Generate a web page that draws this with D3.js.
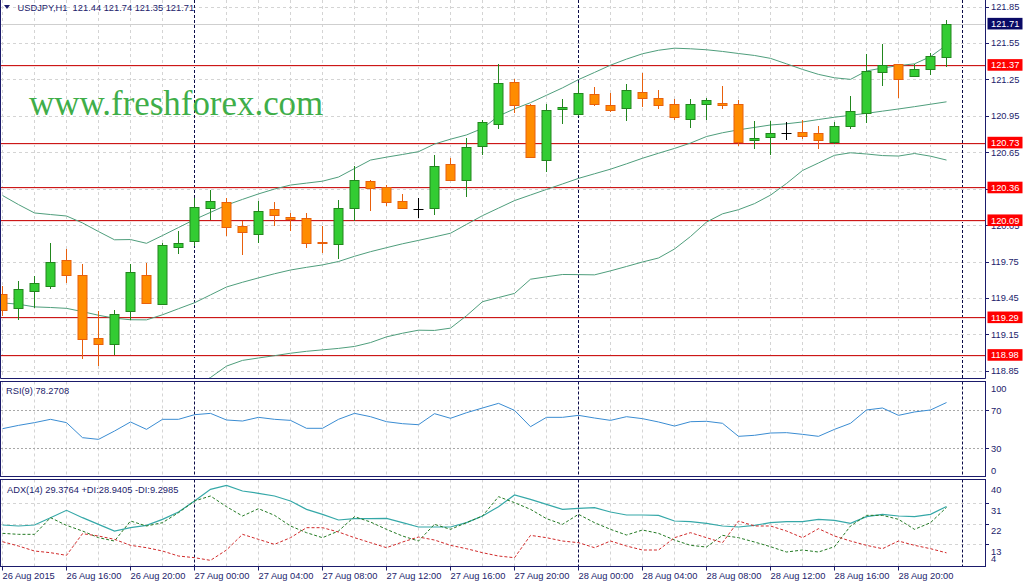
<!DOCTYPE html>
<html>
<head>
<meta charset="utf-8">
<script src="https://cdnjs.cloudflare.com/ajax/libs/d3/7.8.5/d3.min.js"></script>
<style>
  body { margin: 0; background: #ffffff; }
  svg { display: block; font-family: "Liberation Sans", Arial, sans-serif; }
</style>
</head>
<body>
<div id="chart"></div>
<script>
// USDJPY H1, 60 bars from 26 Aug 12:00 to 28 Aug 23:00
var barOpen = [119.48, 119.36, 119.50, 119.55, 119.76, 119.64, 119.12, 119.07, 119.34, 119.64,
    119.40, 119.87, 119.92, 120.19, 120.24, 120.04, 119.98, 120.18, 120.12, 120.11,
    119.91, 119.89, 120.19, 120.41, 120.36, 120.25, 120.18, 120.19, 120.55, 120.42,
    120.70, 120.88, 121.23, 121.04, 120.59, 121.00, 120.97, 121.13, 121.04, 121.01,
    121.15, 121.10, 121.05, 120.93, 121.05, 121.06, 121.05, 120.75, 120.78, 120.81,
    120.82, 120.81, 120.74, 120.87, 120.97, 121.31, 121.38, 121.28, 121.33, 121.44];
var barHigh = [119.55, 119.59, 119.63, 119.90, 119.85, 119.73, 119.34, 119.35, 119.73, 119.74,
    119.90, 120.00, 120.27, 120.34, 120.27, 120.08, 120.25, 120.24, 120.15, 120.15,
    120.04, 120.26, 120.54, 120.42, 120.38, 120.31, 120.27, 120.63, 120.60, 120.77,
    120.92, 121.38, 121.25, 121.05, 121.05, 121.09, 121.22, 121.19, 121.14, 121.21,
    121.30, 121.16, 121.09, 121.09, 121.10, 121.20, 121.08, 120.91, 120.91, 120.90,
    120.92, 120.87, 120.90, 121.11, 121.46, 121.54, 121.38, 121.38, 121.47, 121.74];
var barLow = [119.30, 119.27, 119.37, 119.52, 119.57, 118.95, 118.89, 118.98, 119.27, 119.40,
    119.40, 119.81, 119.88, 120.09, 119.96, 119.80, 119.90, 120.04, 120.00, 119.86,
    119.82, 119.77, 120.08, 120.17, 120.21, 120.18, 120.11, 120.13, 120.41, 120.28,
    120.63, 120.84, 120.97, 120.60, 120.49, 120.88, 120.95, 121.03, 120.98, 120.91,
    121.02, 121.01, 120.92, 120.85, 120.92, 121.01, 120.70, 120.68, 120.63, 120.75,
    120.76, 120.68, 120.72, 120.84, 120.89, 121.20, 121.10, 121.28, 121.29, 121.35];
var barClose = [119.35, 119.52, 119.57, 119.75, 119.64, 119.11, 119.07, 119.32, 119.66, 119.41,
    119.89, 119.90, 120.20, 120.25, 120.03, 119.99, 120.17, 120.13, 120.10, 119.90,
    119.90, 120.19, 120.42, 120.35, 120.24, 120.19, 120.18, 120.54, 120.42, 120.69,
    120.90, 121.22, 121.04, 120.61, 121.00, 121.02, 121.14, 121.05, 121.00, 121.16,
    121.10, 121.04, 120.94, 121.05, 121.08, 121.04, 120.74, 120.77, 120.81, 120.81,
    120.79, 120.75, 120.87, 120.99, 121.32, 121.37, 121.26, 121.34, 121.44, 121.71];

// Bollinger bands
var bandUpper = [120.294, 120.219, 120.150, 120.137, 120.125, 120.068, 119.997, 119.929, 119.931, 119.900,
    119.964, 120.030, 120.096, 120.155, 120.215, 120.262, 120.307, 120.347, 120.380, 120.396,
    120.412, 120.446, 120.516, 120.586, 120.610, 120.632, 120.655, 120.718, 120.758, 120.793,
    120.847, 120.949, 121.008, 121.059, 121.120, 121.181, 121.249, 121.308, 121.368, 121.418,
    121.462, 121.491, 121.508, 121.503, 121.495, 121.481, 121.464, 121.448, 121.424, 121.379,
    121.333, 121.292, 121.264, 121.251, 121.320, 121.345, 121.364, 121.379, 121.438, 121.534];
var bandMiddle = [119.409, 119.398, 119.376, 119.371, 119.364, 119.337, 119.307, 119.283, 119.270, 119.269,
    119.311, 119.361, 119.410, 119.475, 119.540, 119.579, 119.615, 119.649, 119.680, 119.702,
    119.722, 119.750, 119.793, 119.831, 119.864, 119.896, 119.924, 119.953, 119.983, 120.056,
    120.128, 120.190, 120.252, 120.298, 120.344, 120.389, 120.435, 120.473, 120.511, 120.555,
    120.601, 120.642, 120.682, 120.726, 120.780, 120.811, 120.835, 120.855, 120.875, 120.885,
    120.900, 120.920, 120.939, 120.955, 120.971, 120.989, 121.007, 121.026, 121.046, 121.066];
var bandLower = [118.526, 118.559, 118.600, 118.608, 118.604, 118.608, 118.616, 118.622, 118.630, 118.639,
    118.658, 118.691, 118.724, 118.794, 118.888, 118.935, 118.955, 118.974, 118.994, 119.010,
    119.022, 119.034, 119.050, 119.082, 119.129, 119.159, 119.184, 119.182, 119.201, 119.303,
    119.419, 119.453, 119.487, 119.604, 119.624, 119.643, 119.642, 119.640, 119.673, 119.709,
    119.746, 119.779, 119.853, 119.956, 120.075, 120.143, 120.177, 120.227, 120.297, 120.393,
    120.500, 120.562, 120.625, 120.646, 120.636, 120.623, 120.619, 120.640, 120.618, 120.586];

var rsiValues = [50.6, 54.1, 57.0, 60.5, 57.0, 41.1, 39.3, 48.1, 57.7, 49.9,
    60.5, 60.5, 65.4, 66.8, 59.8, 58.7, 62.6, 60.5, 59.4, 51.0,
    51.0, 60.5, 66.8, 63.3, 58.0, 55.9, 54.8, 66.5, 61.6, 67.5,
    72.5, 77.4, 70.0, 52.7, 62.6, 62.6, 64.7, 61.9, 59.4, 63.3,
    61.2, 57.7, 53.4, 58.0, 58.4, 56.3, 42.5, 43.6, 46.0, 46.4,
    44.6, 42.5, 49.9, 56.3, 70.4, 72.5, 64.7, 68.3, 70.4, 78.27];

var adxMain = [21.35, 20.92, 21.35, 24.52, 27.70, 24.52, 21.64, 18.75, 20.19, 21.20,
    23.80, 26.98, 31.74, 36.79, 38.52, 36.07, 35.06, 33.90, 31.74, 28.13,
    25.97, 23.51, 24.09, 24.09, 24.23, 22.36, 20.48, 20.48, 20.48, 22.36,
    25.24, 29.28, 34.33, 32.46, 30.29, 28.13, 28.56, 28.85, 26.98, 25.68,
    25.68, 25.53, 23.08, 22.79, 22.07, 20.92, 20.48, 21.20, 22.36, 22.79,
    22.79, 23.80, 23.37, 22.07, 24.96, 25.97, 25.24, 24.96, 25.97, 29.38];
var adxPlusDi = [17.74, 17.31, 17.31, 24.52, 21.20, 18.75, 15.86, 14.42, 23.08, 20.92,
    22.36, 26.69, 31.74, 33.90, 29.28, 25.24, 28.42, 25.53, 20.92, 18.03,
    15.86, 18.75, 24.96, 22.65, 19.47, 16.59, 14.42, 21.64, 19.47, 22.36,
    25.24, 33.61, 31.02, 28.13, 24.09, 21.64, 25.97, 22.36, 19.47, 17.02,
    19.18, 17.74, 14.85, 12.55, 11.82, 16.87, 15.86, 13.99, 11.97, 9.66,
    10.53, 9.66, 11.97, 20.92, 25.53, 25.53, 23.80, 19.47, 22.36, 28.94];
var adxMinusDi = [14.13, 12.26, 10.09, 9.37, 8.22, 17.60, 16.59, 15.14, 12.55, 11.54,
    10.09, 7.93, 7.21, 6.05, 10.53, 17.31, 15.14, 12.98, 15.86, 20.19,
    20.19, 18.32, 15.86, 13.70, 11.54, 13.99, 16.15, 14.85, 12.55, 11.10,
    9.37, 7.93, 7.21, 16.87, 15.86, 14.42, 13.70, 11.54, 14.42, 12.26,
    10.53, 10.53, 15.86, 18.03, 15.86, 13.70, 23.08, 20.92, 20.92, 18.75,
    15.86, 19.76, 16.59, 14.42, 12.55, 11.10, 14.42, 12.55, 11.10, 9.30];

var priceTicks = [121.85, 121.55, 121.25, 120.95, 120.65, 120.35, 120.05, 119.75, 119.45, 119.15, 118.85];
var levelPrices = [121.37, 120.73, 120.36, 120.09, 119.29, 118.98];
var lastPrice = 121.71;
var rsiTicks = [100, 70, 30, 0];
var rsiLevels = [70, 30];
var adxTicks = [40, 31, 22, 13, 4];
// one label every 4 bars
var timeLabels = ["26 Aug 2015", "26 Aug 16:00", "26 Aug 20:00", "27 Aug 00:00", "27 Aug 04:00",
    "27 Aug 08:00", "27 Aug 12:00", "27 Aug 16:00", "27 Aug 20:00", "28 Aug 00:00",
    "28 Aug 04:00", "28 Aug 08:00", "28 Aug 12:00", "28 Aug 16:00", "28 Aug 20:00"];
var daySeparators = [12, 36, 60];

var svgWidth = 1027;
var svgHeight = 581;
var axisX = 985.5;
var mainBottom = 378.5;
var rsiTop = 381.5, rsiBottom = 476.5;
var adxTop = 479.5, adxBottom = 566.5;

var navy = "#1b1b6b";
var gridColor = "#d4d4d4";

var svg = d3.select("#chart")
    .append("svg")
    .attr("width", svgWidth)
    .attr("height", svgHeight);

var xScale = d3.scaleLinear().domain([0, 60]).range([2, 962]);
var yPrice = d3.scaleLinear().domain([118.79, 121.905]).range([378, 0]);
var yRsi = d3.scaleLinear().domain([0, 100]).range([476.5, 382]);
var yAdx = d3.scaleLinear().domain([4, 40]).range([565.1, 481.9]);

var bx = i => Math.round(xScale(i)) + 0.5;
var crisp = v => Math.round(v) + 0.5;

var defs = svg.append("defs");
[["clipMain", 0, mainBottom], ["clipRsi", rsiTop, rsiBottom], ["clipAdx", adxTop, adxBottom]].forEach(c => {
    defs.append("clipPath").attr("id", c[0])
        .append("rect")
        .attr("x", 1).attr("y", c[1])
        .attr("width", axisX - 1).attr("height", c[2] - c[1]);
});

var evenBars = d3.range(0, 61, 2);

// ---------- grids ----------
function vGrid(top, bottom) {
    svg.append("g").selectAll("line")
        .data(evenBars.filter(i => daySeparators.indexOf(i) < 0))
        .enter()
        .append("line")
        .attr("x1", d => bx(d)).attr("x2", d => bx(d))
        .attr("y1", top).attr("y2", bottom)
        .attr("stroke", gridColor)
        .attr("stroke-dasharray", "3,3");
}
vGrid(0, mainBottom);
vGrid(rsiTop, rsiBottom);
vGrid(adxTop, adxBottom);

svg.append("g").selectAll("line")
    .data(priceTicks)
    .enter()
    .append("line")
    .attr("x1", 1).attr("x2", axisX)
    .attr("y1", d => crisp(yPrice(d))).attr("y2", d => crisp(yPrice(d)))
    .attr("stroke", gridColor)
    .attr("stroke-dasharray", "3,3");

svg.append("g").selectAll("line")
    .data(adxTicks.slice(1, 4))
    .enter()
    .append("line")
    .attr("x1", 1).attr("x2", axisX)
    .attr("y1", d => crisp(yAdx(d))).attr("y2", d => crisp(yAdx(d)))
    .attr("stroke", gridColor)
    .attr("stroke-dasharray", "3,3");

svg.append("g").selectAll("line")
    .data(rsiLevels)
    .enter()
    .append("line")
    .attr("x1", 1).attr("x2", axisX)
    .attr("y1", d => crisp(yRsi(d))).attr("y2", d => crisp(yRsi(d)))
    .attr("stroke", "#a8a8a8")
    .attr("stroke-dasharray", "2,2");

// day separators
[[0, mainBottom], [rsiTop, rsiBottom], [adxTop, adxBottom]].forEach(p => {
    svg.append("g").selectAll("line")
        .data(daySeparators)
        .enter()
        .append("line")
        .attr("x1", d => bx(d)).attr("x2", d => bx(d))
        .attr("y1", p[0]).attr("y2", p[1])
        .attr("stroke", "#0c0c48")
        .attr("stroke-dasharray", "3,2");
});

// watermark
svg.append("text")
    .attr("x", 29)
    .attr("y", 115)
    .attr("font-family", "'Liberation Serif', 'Times New Roman', serif")
    .attr("font-size", "34.9px")
    .attr("fill", "#3fae49")
    .text("www.freshforex.com");

// bid line
svg.append("line")
    .attr("x1", 1).attr("x2", axisX)
    .attr("y1", crisp(yPrice(lastPrice))).attr("y2", crisp(yPrice(lastPrice)))
    .attr("stroke", "#cfcfcf");

// horizontal levels (soft pink halo, then the red line)
var levels = svg.append("g");
levels.selectAll("line.halo")
    .data(levelPrices)
    .enter()
    .append("line")
    .attr("class", "halo")
    .attr("x1", 1).attr("x2", axisX)
    .attr("y1", d => crisp(yPrice(d)) + 1).attr("y2", d => crisp(yPrice(d)) + 1)
    .attr("stroke", "#f7dada");
levels.selectAll("line.level")
    .data(levelPrices)
    .enter()
    .append("line")
    .attr("class", "level")
    .attr("x1", 1).attr("x2", axisX)
    .attr("y1", d => crisp(yPrice(d))).attr("y2", d => crisp(yPrice(d)))
    .attr("stroke", "#cc1818");

// Bollinger bands
var mainGroup = svg.append("g").attr("clip-path", "url(#clipMain)");
var bandLine = d3.line()
    .x((d, i) => bx(i))
    .y(d => yPrice(d));
[bandUpper, bandMiddle, bandLower].forEach(band => {
    mainGroup.append("path")
        .attr("d", bandLine(band))
        .attr("fill", "none")
        .attr("stroke", "#4f9e7c")
        .attr("stroke-width", 1);
});

// candles
var bars = d3.range(barOpen.length);
var candle = mainGroup.selectAll("g.candle")
    .data(bars)
    .enter()
    .append("g")
    .attr("class", "candle");

function candleStroke(i) {
    if (barClose[i] > barOpen[i]) return "#22861e";
    if (barClose[i] < barOpen[i]) return "#e8600c";
    return "#000000";
}

candle.append("line")
    .attr("x1", d => bx(d)).attr("x2", d => bx(d))
    .attr("y1", d => Math.round(yPrice(barHigh[d])))
    .attr("y2", d => Math.round(yPrice(barLow[d])))
    .attr("stroke", d => candleStroke(d));

candle.filter(d => barOpen[d] !== barClose[d])
    .append("rect")
    .attr("x", d => bx(d) - 4.5)
    .attr("width", 9)
    .attr("y", d => crisp(yPrice(Math.max(barOpen[d], barClose[d]))))
    .attr("height", d => Math.max(1, Math.round(Math.abs(yPrice(barOpen[d]) - yPrice(barClose[d])))))
    .attr("fill", d => barClose[d] > barOpen[d] ? "#33cc33" : "#ff8c00")
    .attr("stroke", d => candleStroke(d));

candle.filter(d => barOpen[d] === barClose[d])
    .append("line")
    .attr("x1", d => bx(d) - 5).attr("x2", d => bx(d) + 5)
    .attr("y1", d => crisp(yPrice(barOpen[d]))).attr("y2", d => crisp(yPrice(barOpen[d])))
    .attr("stroke", "#000000");

// RSI
svg.append("g").attr("clip-path", "url(#clipRsi)")
    .append("path")
    .attr("d", d3.line().x((d, i) => bx(i)).y(d => yRsi(d))(rsiValues))
    .attr("fill", "none")
    .attr("stroke", "#3a8cd2")
    .attr("stroke-width", 1);

// ADX
var adxGroup = svg.append("g").attr("clip-path", "url(#clipAdx)");
var adxLine = d3.line().x((d, i) => bx(i)).y(d => yAdx(d));
adxGroup.append("path")
    .attr("d", adxLine(adxMain))
    .attr("fill", "none")
    .attr("stroke", "#35a8a8")
    .attr("stroke-width", 1.2);
adxGroup.append("path")
    .attr("d", adxLine(adxPlusDi))
    .attr("fill", "none")
    .attr("stroke", "#247a24")
    .attr("stroke-dasharray", "3,2");
adxGroup.append("path")
    .attr("d", adxLine(adxMinusDi))
    .attr("fill", "none")
    .attr("stroke", "#d02a2a")
    .attr("stroke-dasharray", "3,2");

// ---------- frames ----------
svg.append("path")
    .attr("d", `M0.5,0 V${mainBottom} H${axisX} V0`)
    .attr("fill", "none")
    .attr("stroke", navy);
[[rsiTop, rsiBottom], [adxTop, adxBottom]].forEach(p => {
    svg.append("rect")
        .attr("x", 0.5).attr("y", p[0])
        .attr("width", axisX - 0.5).attr("height", p[1] - p[0])
        .attr("fill", "none")
        .attr("stroke", navy);
});

// ---------- right axis labels ----------
var labelStyle = sel => sel
    .attr("font-size", "9.3px")
    .attr("fill", navy);

var priceAxis = svg.append("g");
priceAxis.selectAll("line")
    .data(priceTicks)
    .enter()
    .append("line")
    .attr("x1", axisX).attr("x2", axisX + 3.5)
    .attr("y1", d => crisp(yPrice(d))).attr("y2", d => crisp(yPrice(d)))
    .attr("stroke", navy);
priceAxis.selectAll("text")
    .data(priceTicks)
    .enter()
    .append("text")
    .attr("x", 991)
    .attr("y", d => yPrice(d) + 3.4)
    .call(labelStyle)
    .text(d => d.toFixed(2));

// level price tags
var tags = svg.append("g").selectAll("g")
    .data(levelPrices.map(p => ({ p: p, fill: "#ff0000" })).concat([{ p: lastPrice, fill: "#0a0a66" }]))
    .enter()
    .append("g");
tags.append("rect")
    .attr("x", 987.5)
    .attr("y", d => yPrice(d.p) - 5.8)
    .attr("width", 35)
    .attr("height", 11.6)
    .attr("fill", d => d.fill);
tags.append("text")
    .attr("x", 991)
    .attr("y", d => yPrice(d.p) + 3.4)
    .attr("font-size", "9.3px")
    .attr("fill", "#ffffff")
    .text(d => d.p.toFixed(2));

// RSI axis
svg.append("g").selectAll("text")
    .data(rsiTicks)
    .enter()
    .append("text")
    .attr("x", 991)
    .attr("y", d => Math.min(Math.max(yRsi(d), 388.7), 471) + 3.4)
    .call(labelStyle)
    .text(d => d);
svg.append("g").selectAll("line")
    .data(rsiLevels)
    .enter()
    .append("line")
    .attr("x1", axisX).attr("x2", axisX + 3.5)
    .attr("y1", d => crisp(yRsi(d))).attr("y2", d => crisp(yRsi(d)))
    .attr("stroke", navy);

// ADX axis (labels hang below their tick)
svg.append("g").selectAll("line")
    .data(adxTicks.slice(1, 4))
    .enter()
    .append("line")
    .attr("x1", axisX).attr("x2", axisX + 3.5)
    .attr("y1", d => crisp(yAdx(d))).attr("y2", d => crisp(yAdx(d)))
    .attr("stroke", navy);
svg.append("g").selectAll("text")
    .data(adxTicks)
    .enter()
    .append("text")
    .attr("x", 991)
    .attr("y", d => Math.min(Math.max(yAdx(d) + 7.5, 486), 558.7) + 3.4)
    .call(labelStyle)
    .text(d => d);

// ---------- time axis ----------
var timeAxis = svg.append("g");
timeAxis.selectAll("line")
    .data(timeLabels)
    .enter()
    .append("line")
    .attr("x1", (d, k) => bx(k * 4)).attr("x2", (d, k) => bx(k * 4))
    .attr("y1", adxBottom).attr("y2", adxBottom + 4)
    .attr("stroke", navy);
timeAxis.selectAll("text")
    .data(timeLabels)
    .enter()
    .append("text")
    .attr("x", (d, k) => bx(k * 4))
    .attr("y", 578.5)
    .call(labelStyle)
    .text(d => d);

// ---------- panel captions ----------
svg.append("path")
    .attr("d", "M4,5 L10,5 L7,9 Z")
    .attr("fill", navy);
svg.append("text")
    .attr("x", 17.5).attr("y", 11)
    .call(labelStyle)
    .attr("xml:space", "preserve")
    .text("USDJPY,H1  121.44 121.74 121.35 121.71");
svg.append("text")
    .attr("x", 6).attr("y", 394)
    .call(labelStyle)
    .text("RSI(9) 78.2708");
svg.append("text")
    .attr("x", 7).attr("y", 492.5)
    .call(labelStyle)
    .text("ADX(14) 29.3764 +DI:28.9405 -DI:9.2985");
</script>
</body>
</html>
